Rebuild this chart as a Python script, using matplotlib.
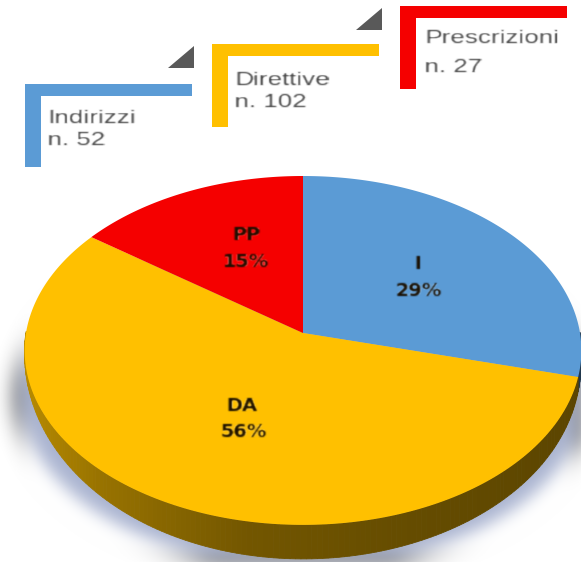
import numpy as np
import matplotlib
matplotlib.use("Agg")
import matplotlib.pyplot as plt
from matplotlib.patches import Polygon

# ==============================
# DATA
# ==============================
slice_names = ["I", "DA", "PP"]
slice_pct = [29, 56, 15]
slice_colors = ["#5B9BD5", "#FFC000", "#F50000"]

box_names = ["Indirizzi", "Direttive", "Prescrizioni"]
box_counts = [52, 102, 27]

# ==============================
# LAYOUT (picture pixels)
# ==============================
APEX_X, APEX_Y = 303, 333
RX, RY, TILT = 277, 172.7, 0.10
DEPTH = 34

boxes = [(25, 84), (212, 44), (400, 6)]
BOX_W, BOX_H, BAR_H, BAR_W = 167, 83, 12, 16

text_x = [48, 235, 425]
name_base = [123, 85, 43]
count_base = [145, 107, 72]

name_xy = [(414, 269), (226, 411), (232, 240)]
pct_xy = [(396, 296), (221, 437), (223, 267)]


def project(theta):
    # circle seen in perspective, so the apex sits above the middle of the ellipse
    x, y = np.cos(theta), np.sin(theta)
    w = 1 + TILT * y
    return APEX_X + RX * x / w, APEX_Y - RY * y / w


def wall_depth(theta, px):
    # wall tapers out at both ends, slower on the right
    power = np.interp(px, [25, 581], [1.0, 0.6])
    return DEPTH * np.maximum(-np.sin(theta), 0) ** power


def soften(sigma, stretch=1.0, pad=4):
    # the reference is a blurry, widened scan, so do the same to the drawn pixels
    def _filter(img, dpi):
        out = img
        if stretch != 1.0:
            h, w = img.shape[:2]
            new_w = int(round(w * stretch))
            pos = np.arange(new_w) / stretch
            out = np.stack([
                np.stack([np.interp(pos, np.arange(w), img[r, :, c]) for r in range(h)])
                for c in range(img.shape[2])
            ], axis=2)
        out = np.pad(out, ((pad, pad), (pad, pad), (0, 0)))
        r = int(3 * sigma)
        k = np.exp(-0.5 * (np.arange(-r, r + 1) / sigma) ** 2)
        k /= k.sum()
        for axis in (0, 1):
            out = np.apply_along_axis(lambda v: np.convolve(v, k, mode="same"), axis, out)
        return out, -pad, -pad
    return _filter


fig = plt.figure(figsize=(5.81, 5.62), dpi=100)
ax = fig.add_axes([0, 0, 1, 1])
ax.set_xlim(0, 581)
ax.set_ylim(562, 0)
ax.axis("off")

# ==============================
# SHADOW
# ==============================
t = np.linspace(0, 2 * np.pi, 300)
sx, sy = project(t)
shadow = Polygon(np.column_stack([APEX_X + (sx - APEX_X) * 1.03, sy + DEPTH + 12]),
                 closed=True, fc="#A9B3D0", ec="none", zorder=1)
shadow.set_agg_filter(soften(10, pad=45))
ax.add_patch(shadow)

# ==============================
# PIE
# ==============================
fractions = np.array(slice_pct) / sum(slice_pct)
edges = np.pi / 2 - 2 * np.pi * np.concatenate([[0], np.cumsum(fractions)])

# side wall, darker to the right
dark_x = [25, 100, 250, 400, 581]
dark_r = [0.72, 0.60, 0.45, 0.40, 0.36]
for i in range(len(slice_pct)):
    th = np.linspace(edges[i], edges[i + 1], 200)
    px, py = project(th)
    dp = wall_depth(th, px)
    base = np.array(matplotlib.colors.to_rgb(slice_colors[i]))
    for j in range(len(th) - 1):
        if dp[j] <= 0 and dp[j + 1] <= 0:
            continue
        shade = np.interp(px[j], dark_x, dark_r)
        quad = [(px[j], py[j]), (px[j + 1], py[j + 1]),
                (px[j + 1], py[j + 1] + dp[j + 1]), (px[j], py[j] + dp[j])]
        ax.add_patch(Polygon(quad, closed=True, fc=base * shade, ec=base * shade, lw=0.6, zorder=2))

# top face
for i in range(len(slice_pct)):
    th = np.linspace(edges[i], edges[i + 1], 200)
    px, py = project(th)
    ax.fill(np.r_[APEX_X, px], np.r_[APEX_Y, py], color=slice_colors[i], lw=0, zorder=3)

for name, pct, nxy, pxy in zip(slice_names, slice_pct, name_xy, pct_xy):
    for label, (lx, ly) in ((name, nxy), (f"{pct}%", pxy)):
        txt = ax.text(lx, ly, label, ha="left", va="baseline", fontsize=13,
                      fontweight="bold", color="#1C1000", family="DejaVu Sans", zorder=4)
        txt.set_agg_filter(soften(0.7, stretch=1.08))

# ==============================
# CALLOUTS
# ==============================
for i, (name, n) in enumerate(zip(box_names, box_counts)):
    bx, by = boxes[i]
    ax.fill([bx, bx + BOX_W, bx + BOX_W, bx + BAR_W, bx + BAR_W, bx],
            [by, by, by + BAR_H, by + BAR_H, by + BOX_H, by + BOX_H],
            color=slice_colors[i], lw=0, zorder=2)
    for label, base_y in ((name, name_base[i]), (f"n. {n}", count_base[i])):
        txt = ax.text(text_x[i], base_y, label, ha="left", va="baseline", fontsize=14,
                      color="#404040", family="Liberation Sans", zorder=4)
        txt.set_agg_filter(soften(0.6, stretch=1.33))

# little grey corners next to the next box
for bx, by in boxes[1:]:
    ax.fill([bx - 44, bx - 18, bx - 18], [by + 24, by + 24, by + 2],
            color="#595959", lw=0, zorder=2)

fig.savefig("out.png", dpi=100)
